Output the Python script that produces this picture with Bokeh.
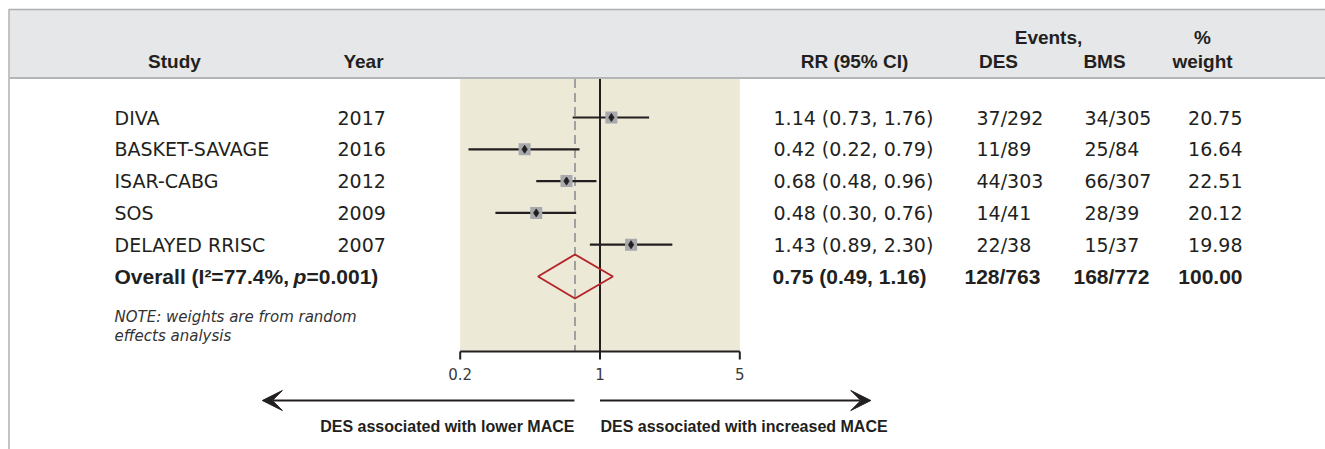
from bokeh.plotting import figure
from bokeh.models import Range1d, LogScale, ColumnDataSource, Arrow, VeeHead
from bokeh.core.properties import value
from bokeh.embed import file_html
from bokeh.resources import INLINE

# ---------------- data ----------------
studies = ["DIVA", "BASKET-SAVAGE", "ISAR-CABG", "SOS", "DELAYED RRISC"]
years = [2017, 2016, 2012, 2009, 2007]
rr = [1.14, 0.42, 0.68, 0.48, 1.43]
rr_lo = [0.73, 0.22, 0.48, 0.30, 0.89]
rr_hi = [1.76, 0.79, 0.96, 0.76, 2.30]
des_events = [37, 11, 44, 14, 22]
des_total = [292, 89, 303, 41, 38]
bms_events = [34, 25, 66, 28, 15]
bms_total = [305, 84, 307, 39, 37]
weights = [20.75, 16.64, 22.51, 20.12, 19.98]

overall_rr = 0.75
overall_lo = 0.49
overall_hi = 1.16
overall_des = (128, 763)
overall_bms = (168, 772)
overall_weight = 100.00
overall_i2 = 77.4
overall_p = "0.001"

axis_ticks = [0.2, 1, 5]
axis_tick_labels = ["0.2", "1", "5"]

# ---------------- layout constants ----------------
W, H = 1325, 449
X_ONE = 599.5          # page x of RR = 1
PX_PER_DECADE = 200.0
L0 = -X_ONE / PX_PER_DECADE
L1 = L0 + W / PX_PER_DECADE

ROW0, ROW_STEP = 117.0, 31.8
n = len(studies)
row_y = [ROW0 + ROW_STEP * i for i in range(n)]
overall_y = ROW0 + ROW_STEP * n

HEAD_TOP, HEAD_BOT = 9, 77
PANEL_BOT = 351

TXT = "#231f20"
REG = value("DejaVu Sans")
BOLD = value("Liberation Sans")

p = figure(width=W, height=H, x_range=Range1d(0, W), y_range=Range1d(H, 0),
           output_backend="svg", toolbar_location=None, min_border=0)
p.axis.visible = False
p.grid.visible = False
p.outline_line_color = None
p.background_fill_color = "white"
p.border_fill_color = "white"
p.extra_x_ranges = {"rr": Range1d(10 ** L0, 10 ** L1)}
p.extra_x_scales = {"rr": LogScale()}

# frame / header band
p.quad(left=9, right=W, top=HEAD_TOP, bottom=HEAD_BOT, fill_color="#e6e7e8", line_color=None)
p.segment(x0=8, x1=W, y0=HEAD_TOP, y1=HEAD_TOP, line_color="#b0b0b0", line_width=1.5)
p.segment(x0=8.5, x1=8.5, y0=HEAD_TOP, y1=H, line_color="#b0b0b0", line_width=1.5)
p.segment(x0=9, x1=W, y0=HEAD_BOT + 0.5, y1=HEAD_BOT + 0.5, line_color="#b4b5b6", line_width=2)

# forest panel
p.quad(left=axis_ticks[0], right=axis_ticks[-1], top=HEAD_BOT + 1.5, bottom=PANEL_BOT,
       fill_color="#ece9d7", line_color=None, x_range_name="rr")
p.segment(x0=overall_rr, x1=overall_rr, y0=HEAD_BOT + 1.5, y1=PANEL_BOT, line_color="#a0a0a0",
          line_width=2, line_dash="9 5", x_range_name="rr")
p.segment(x0=1, x1=1, y0=HEAD_BOT + 1.5, y1=PANEL_BOT, line_color=TXT, line_width=2, x_range_name="rr")

src = ColumnDataSource(dict(y=row_y, rr=rr, lo=rr_lo, hi=rr_hi))
p.segment(x0="lo", x1="hi", y0="y", y1="y", source=src, line_color=TXT, line_width=2.2, x_range_name="rr")
p.scatter(x="rr", y="y", source=src, marker="square", size=12, fill_color="#a7a9ac",
          line_color=None, x_range_name="rr")
p.scatter(x="rr", y="y", source=src, marker="diamond", size=8, fill_color=TXT,
          line_color=TXT, line_width=0.8, x_range_name="rr")

# overall diamond
DH = 22
p.patch(x=[overall_lo, overall_rr, overall_hi, overall_rr],
        y=[overall_y, overall_y - DH, overall_y, overall_y + DH],
        fill_color=None, line_color="#b5262c", line_width=2, x_range_name="rr")

# axis
p.segment(x0=axis_ticks[0], x1=axis_ticks[-1], y0=PANEL_BOT, y1=PANEL_BOT, line_color=TXT,
          line_width=2, x_range_name="rr")
p.segment(x0=axis_ticks, x1=axis_ticks, y0=[PANEL_BOT] * 3, y1=[PANEL_BOT + 8] * 3,
          line_color=TXT, line_width=2, x_range_name="rr")
p.text(x=axis_ticks, y=[373] * 3, text=axis_tick_labels, x_range_name="rr",
       text_font=REG, text_font_size="15px", text_color="#3a3a3a",
       text_align="center", text_baseline="middle")

# arrows
p.add_layout(Arrow(x_start=0.745, x_end=0.0205, y_start=400, y_end=400, line_color=TXT, line_width=2,
                   end=VeeHead(size=20, fill_color=TXT, line_color=TXT, line_width=1),
                   x_range_name="rr"))
p.add_layout(Arrow(x_start=1.0, x_end=22.6, y_start=400, y_end=400, line_color=TXT, line_width=2,
                   end=VeeHead(size=20, fill_color=TXT, line_color=TXT, line_width=1),
                   x_range_name="rr"))
p.text(x=[0.745], y=[426], text=["DES associated with lower MACE"], x_range_name="rr",
       text_font=BOLD, text_font_style="bold", text_font_size="16px", text_color=TXT,
       text_align="right", text_baseline="middle")
p.text(x=[1.005], y=[426], text=["DES associated with increased MACE"], x_range_name="rr",
       text_font=BOLD, text_font_style="bold", text_font_size="16px", text_color=TXT,
       text_align="left", text_baseline="middle")

# headers
def hdr(x, y, t):
    p.text(x=[x], y=[y], text=[t], text_font=BOLD, text_font_style="bold", text_font_size="19px",
           text_color=TXT, text_align="center", text_baseline="middle")

hdr(174, 61, "Study")
hdr(363, 61, "Year")
hdr(854, 61, "RR (95% CI)")
hdr(1048, 37, "Events,")
hdr(998, 61, "DES")
hdr(1104, 61, "BMS")
hdr(1202, 37, "%")
hdr(1202, 61, "weight")

# study rows
rows = ColumnDataSource(dict(
    y=row_y,
    study=studies,
    year=[str(v) for v in years],
    ci=[f"{a:.2f} ({b:.2f}, {c:.2f})" for a, b, c in zip(rr, rr_lo, rr_hi)],
    des=[f"{a}/{b}" for a, b in zip(des_events, des_total)],
    bms=[f"{a}/{b}" for a, b in zip(bms_events, bms_total)],
    w=[f"{v:.2f}" for v in weights],
))
for col, x, al in [("study", 114, "left"), ("year", 337, "left"), ("ci", 773, "left"),
                   ("des", 976, "left"), ("bms", 1084, "left"), ("w", 1242, "right")]:
    p.text(x=x, y="y", text=col, source=rows, text_font=REG, text_font_size="19px",
           text_color=TXT, text_align=al, text_baseline="middle")

# overall row
def btxt(x, t, al="left", style="bold"):
    p.text(x=[x], y=[overall_y], text=[t], text_font=BOLD, text_font_style=style,
           text_font_size="21px", text_color=TXT, text_align=al, text_baseline="middle")

btxt(114, f"Overall (I\u00b2={overall_i2}%, ")
btxt(293, "p", style="bold italic")
btxt(306, f"={overall_p})")
btxt(772, f"{overall_rr:.2f} ({overall_lo:.2f}, {overall_hi:.2f})")
btxt(964, f"{overall_des[0]}/{overall_des[1]}")
btxt(1073, f"{overall_bms[0]}/{overall_bms[1]}")
btxt(1242, f"{overall_weight:.2f}", al="right")

# note
p.text(x=[114, 114], y=[316, 335], text=["NOTE: weights are from random", "effects analysis"],
       text_font=REG, text_font_style="italic", text_font_size="15px", text_color="#333333",
       text_align="left", text_baseline="middle")

open("out.html", "w").write(file_html(p, INLINE))
